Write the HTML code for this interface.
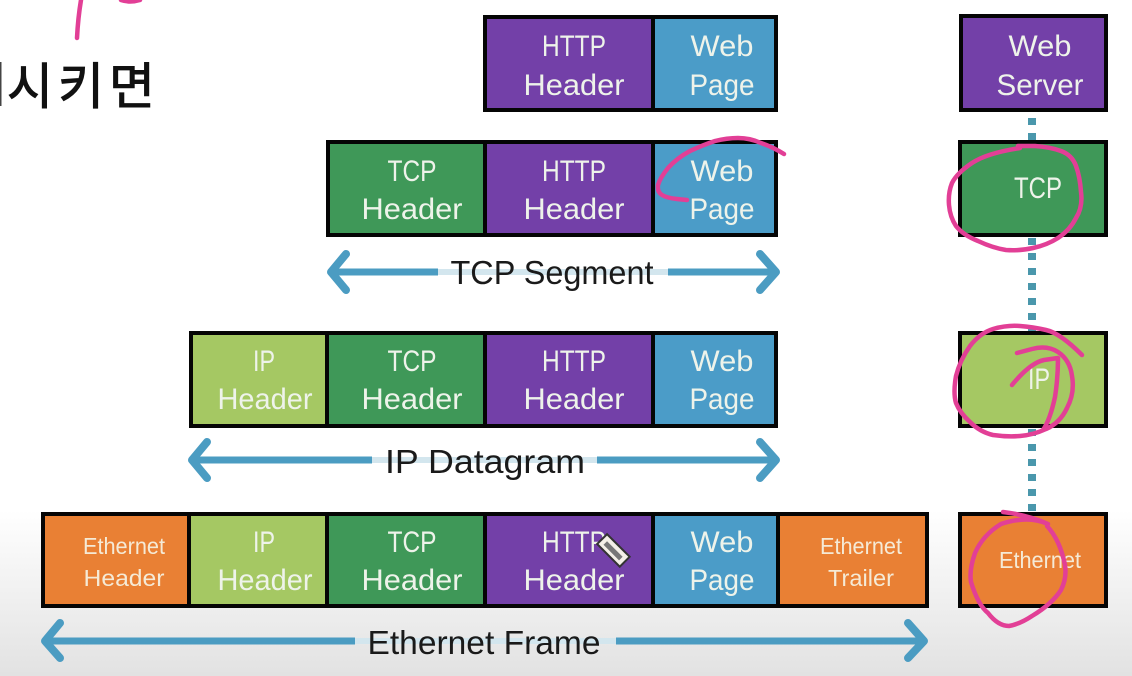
<!DOCTYPE html>
<html>
<head>
<meta charset="utf-8">
<style>
html,body{margin:0;padding:0;background:#fff;width:1132px;height:676px;overflow:hidden}
svg{display:block}
text{font-family:"Liberation Sans","Noto Sans CJK KR",sans-serif}
.w{fill:#eef3ea;font-size:30px;text-anchor:middle}
.s{fill:#f5ead6;font-size:23px;text-anchor:middle}
.k{fill:#1a1a1a;font-size:33px;text-anchor:middle}
.b{stroke:#050505;stroke-width:4}
.p{fill:none;stroke:#e23f96;stroke-width:4.5;stroke-linecap:round;stroke-linejoin:round}
.a{fill:none;stroke:#4b9cc2;stroke-width:8;stroke-linecap:round;stroke-linejoin:round}
.l{stroke:#4b9cc2;stroke-width:7}
.h{stroke:#d3e6ee;stroke-width:6}
</style>
</head>
<body>
<svg width="1132" height="676" viewBox="0 0 1132 676" xmlns="http://www.w3.org/2000/svg">
<defs>
<linearGradient id="bg" x1="0" y1="0" x2="0" y2="1">
<stop offset="0" stop-color="#ffffff"/>
<stop offset="1" stop-color="#e2e2e2"/>
</linearGradient>
</defs>
<rect width="1132" height="676" fill="#fff"/>
<rect y="510" width="1132" height="166" fill="url(#bg)"/>

<path class="p" d="M81 0 Q78 18 77 38"/>
<path class="p" d="M121 0 Q130 3 140 0"/>
<text x="7" y="104" font-size="50" fill="#111" stroke="#111" stroke-width="1" letter-spacing="5" style="font-family:'Noto Sans CJK KR',sans-serif">시키면</text>
<rect x="0" y="62" width="1.5" height="44" fill="#444"/>

<!-- Row 1 -->
<rect class="b" x="485" y="17" width="168" height="93" fill="#7340a8"/>
<rect class="b" x="653" y="17" width="123" height="93" fill="#4b9cc8"/>
<text class="w" x="574" y="56" textLength="64" lengthAdjust="spacingAndGlyphs">HTTP</text>
<text class="w" x="574" y="95" textLength="101" lengthAdjust="spacingAndGlyphs">Header</text>
<text class="w" x="722" y="56" textLength="63" lengthAdjust="spacingAndGlyphs">Web</text>
<text class="w" x="722" y="95" textLength="65" lengthAdjust="spacingAndGlyphs">Page</text>

<!-- Row 2 -->
<rect class="b" x="328" y="142" width="157" height="93" fill="#3f9858"/>
<rect class="b" x="485" y="142" width="168" height="93" fill="#7340a8"/>
<rect class="b" x="653" y="142" width="123" height="93" fill="#4b9cc8"/>
<text class="w" x="412" y="181" textLength="49" lengthAdjust="spacingAndGlyphs">TCP</text>
<text class="w" x="412" y="219" textLength="101" lengthAdjust="spacingAndGlyphs">Header</text>
<text class="w" x="574" y="181" textLength="64" lengthAdjust="spacingAndGlyphs">HTTP</text>
<text class="w" x="574" y="219" textLength="101" lengthAdjust="spacingAndGlyphs">Header</text>
<text class="w" x="722" y="181" textLength="63" lengthAdjust="spacingAndGlyphs">Web</text>
<text class="w" x="722" y="219" textLength="65" lengthAdjust="spacingAndGlyphs">Page</text>

<!-- TCP Segment arrow -->
<line class="h" x1="438" y1="272" x2="668" y2="272"/>
<line class="l" x1="333" y1="272" x2="438" y2="272"/>
<line class="l" x1="668" y1="272" x2="774" y2="272"/>
<path class="a" d="M346 254 L331 272 L346 290"/>
<path class="a" d="M760 254 L776 272 L760 290"/>
<text class="k" x="552" y="284" textLength="203" lengthAdjust="spacingAndGlyphs">TCP Segment</text>

<!-- Row 3 -->
<rect class="b" x="191" y="333" width="136" height="93" fill="#a5c863"/>
<rect class="b" x="327" y="333" width="158" height="93" fill="#3f9858"/>
<rect class="b" x="485" y="333" width="168" height="93" fill="#7340a8"/>
<rect class="b" x="653" y="333" width="123" height="93" fill="#4b9cc8"/>
<text class="w" x="264" y="371" textLength="22" lengthAdjust="spacingAndGlyphs">IP</text>
<text class="w" x="265" y="409" textLength="95" lengthAdjust="spacingAndGlyphs">Header</text>
<text class="w" x="412" y="371" textLength="49" lengthAdjust="spacingAndGlyphs">TCP</text>
<text class="w" x="412" y="409" textLength="101" lengthAdjust="spacingAndGlyphs">Header</text>
<text class="w" x="574" y="371" textLength="64" lengthAdjust="spacingAndGlyphs">HTTP</text>
<text class="w" x="574" y="409" textLength="101" lengthAdjust="spacingAndGlyphs">Header</text>
<text class="w" x="722" y="371" textLength="63" lengthAdjust="spacingAndGlyphs">Web</text>
<text class="w" x="722" y="409" textLength="65" lengthAdjust="spacingAndGlyphs">Page</text>

<!-- IP Datagram arrow -->
<line class="h" x1="372" y1="460" x2="597" y2="460"/>
<line class="l" x1="195" y1="460" x2="372" y2="460"/>
<line class="l" x1="597" y1="460" x2="774" y2="460"/>
<path class="a" d="M207 442 L192 460 L207 478"/>
<path class="a" d="M760 442 L776 460 L760 478"/>
<text class="k" x="485" y="473" textLength="200" lengthAdjust="spacingAndGlyphs">IP Datagram</text>

<!-- Row 4 -->
<rect class="b" x="43" y="514" width="146" height="92" fill="#e98034"/>
<rect class="b" x="189" y="514" width="138" height="92" fill="#a5c863"/>
<rect class="b" x="327" y="514" width="158" height="92" fill="#3f9858"/>
<rect class="b" x="485" y="514" width="168" height="92" fill="#7340a8"/>
<rect class="b" x="653" y="514" width="125" height="92" fill="#4b9cc8"/>
<rect class="b" x="778" y="514" width="149" height="92" fill="#e98034"/>
<text class="s" x="124" y="554" textLength="82" lengthAdjust="spacingAndGlyphs">Ethernet</text>
<text class="s" x="124" y="586" textLength="81" lengthAdjust="spacingAndGlyphs">Header</text>
<text class="w" x="264" y="552" textLength="22" lengthAdjust="spacingAndGlyphs">IP</text>
<text class="w" x="265" y="590" textLength="95" lengthAdjust="spacingAndGlyphs">Header</text>
<text class="w" x="412" y="552" textLength="49" lengthAdjust="spacingAndGlyphs">TCP</text>
<text class="w" x="412" y="590" textLength="101" lengthAdjust="spacingAndGlyphs">Header</text>
<text class="w" x="574" y="552" textLength="64" lengthAdjust="spacingAndGlyphs">HTTP</text>
<text class="w" x="574" y="590" textLength="101" lengthAdjust="spacingAndGlyphs">Header</text>
<text class="w" x="722" y="552" textLength="63" lengthAdjust="spacingAndGlyphs">Web</text>
<text class="w" x="722" y="590" textLength="65" lengthAdjust="spacingAndGlyphs">Page</text>
<text class="s" x="861" y="554" textLength="82" lengthAdjust="spacingAndGlyphs">Ethernet</text>
<text class="s" x="861" y="586" textLength="66" lengthAdjust="spacingAndGlyphs">Trailer</text>

<!-- Ethernet Frame arrow -->
<line class="h" x1="355" y1="641" x2="616" y2="641"/>
<line class="l" x1="46" y1="641" x2="355" y2="641"/>
<line class="l" x1="616" y1="641" x2="924" y2="641"/>
<path class="a" d="M60 623 L45 641 L60 658"/>
<path class="a" d="M908 623 L924 641 L908 658"/>
<text class="k" x="484" y="654" textLength="233" lengthAdjust="spacingAndGlyphs">Ethernet Frame</text>

<!-- Dotted connector -->
<line x1="1032" y1="112" x2="1032" y2="141" stroke="#4a97ac" stroke-width="8" stroke-dasharray="7 8" stroke-dashoffset="-6"/>
<line x1="1032" y1="238" x2="1032" y2="332" stroke="#4a97ac" stroke-width="8" stroke-dasharray="7 8"/>
<line x1="1032" y1="429" x2="1032" y2="513" stroke="#4a97ac" stroke-width="8" stroke-dasharray="7 8"/>

<!-- Right column -->
<rect class="b" x="961" y="16" width="145" height="94" fill="#7340a8"/>
<text class="w" x="1040" y="56" textLength="63" lengthAdjust="spacingAndGlyphs">Web</text>
<text class="w" x="1040" y="95" textLength="87" lengthAdjust="spacingAndGlyphs">Server</text>
<rect class="b" x="960" y="142" width="146" height="93" fill="#3f9858"/>
<text class="w" x="1038" y="198" textLength="48" lengthAdjust="spacingAndGlyphs">TCP</text>
<rect class="b" x="960" y="333" width="146" height="93" fill="#a5c863"/>
<text class="w" x="1039" y="389" textLength="22" lengthAdjust="spacingAndGlyphs">IP</text>
<rect class="b" x="960" y="514" width="146" height="92" fill="#e98034"/>
<text class="s" x="1040" y="568" textLength="82" lengthAdjust="spacingAndGlyphs">Ethernet</text>

<!-- Pink annotations -->
<path class="p" d="M784 154 Q773 147 761 143 Q750 138 738 138 Q727 138 715 141 Q703 145 690 151 Q677 158 668 168 Q660 178 658 185 Q657 192 662 195 Q667 198 677 199 L687 200"/>
<path class="p" d="M1020 148 Q987 153 972 163 Q957 173 952 183 Q948 193 949 205 Q950 217 956 226 Q963 235 978 241 Q993 248 1006 250 Q1020 251 1033 248 Q1047 245 1058 238 Q1070 230 1076 218 Q1083 207 1081 192 Q1080 177 1076 166 Q1072 155 1061 151 Q1050 147 1035 146 L1018 146"/>
<path class="p" d="M1082 355 Q1060 333 1046 330 Q1033 327 1020 326 Q1007 325 993 329 Q980 333 970 346 Q960 360 956 376 Q953 393 956 403 Q960 413 970 422 Q980 432 993 435 Q1007 437 1020 436 Q1033 435 1046 429 Q1060 423 1067 408 Q1075 393 1072 376 Q1070 360 1058 352 Q1047 345 1032 349 L1017 353"/>
<path class="p" d="M1012 385 Q1030 363 1044 360 L1058 358 Q1058 378 1055 397 Q1050 420 1043 430"/>
<path class="p" d="M1003 512 Q1028 515 1048 524 Q1028 515 1001 524 Q983 535 975 553 Q969 570 971 582 Q978 605 988 613 Q998 626 1009 626 Q1020 624 1032 616 Q1052 604 1061 590 Q1067 578 1065 565 Q1060 540 1047 526"/>

<!-- Cursor -->
<g transform="translate(612 549) rotate(-45)">
<rect x="-7" y="-14" width="14" height="32" fill="#f4f0e8" stroke="#333" stroke-width="2"/>
<rect x="-3" y="-9" width="5" height="22" fill="#777"/>
</g>
</svg>
</body>
</html>
